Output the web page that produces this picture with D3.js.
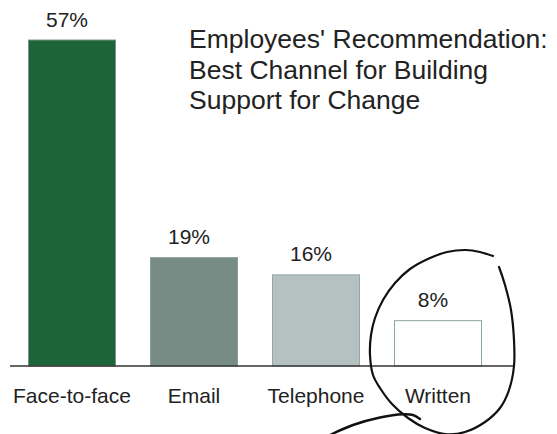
<!DOCTYPE html>
<html>
<head>
<meta charset="utf-8">
<script src="https://cdn.jsdelivr.net/npm/d3@7"></script>
<style>
  html, body { margin: 0; padding: 0; background: #fff; }
  svg { display: block; font-family: "Liberation Sans", Arial, Helvetica, sans-serif; }
</style>
</head>
<body>
<svg id="chart" width="557" height="434"></svg>
<script>
// Survey results: preferred channel for building support for change
const categories = ["Face-to-face", "Email", "Telephone", "Written"];
const values = [57, 19, 16, 8];
const valueLabels = ["57%", "19%", "16%", "8%"];
const barFills = ["#1b6538", "#778c84", "#b5c0c1", "#ffffff"];
const barStrokes = ["#7f958d", "#8a9d97", "#93a8a8", "#8aa5a5"];
const titleLines = ["Employees' Recommendation:", "Best Channel for Building", "Support for Change"];

const svg = d3.select("#chart");
const baseY = 366;

const x = d3.scaleBand()
  .domain(categories)
  .range([11, 499])
  .paddingInner(34 / 122)
  .paddingOuter(17 / 122);

const y = d3.scaleLinear()
  .domain([0, 57])
  .range([baseY, 39.5]);

const data = categories.map((c, i) => ({ c, v: values[i], label: valueLabels[i], fill: barFills[i], stroke: barStrokes[i] }));

// bars
svg.append("g").selectAll("rect")
  .data(data)
  .join("rect")
  .attr("x", d => x(d.c) + 0.5)
  .attr("y", d => y(d.v) + 0.5)
  .attr("width", x.bandwidth() - 1)
  .attr("height", d => baseY - y(d.v) - 0.5)
  .attr("fill", d => d.fill)
  .attr("stroke", d => d.stroke)
  .attr("stroke-width", 1);

// value labels
svg.append("g").selectAll("text")
  .data(data)
  .join("text")
  .attr("x", d => x(d.c) + x.bandwidth() / 2 - 5)
  .attr("y", d => y(d.v) - 13)
  .attr("text-anchor", "middle")
  .attr("font-size", 21)
  .attr("fill", "#222")
  .text(d => d.label);

// category axis: baseline and labels
svg.append("line")
  .attr("x1", 10).attr("x2", 513)
  .attr("y1", baseY).attr("y2", baseY)
  .attr("stroke", "#333")
  .attr("stroke-width", 1.6);

svg.append("g").selectAll("text")
  .data(categories)
  .join("text")
  .attr("x", c => x(c) + x.bandwidth() / 2)
  .attr("y", baseY + 36.5)
  .attr("text-anchor", "middle")
  .attr("font-size", 21)
  .attr("fill", "#222")
  .text(c => c);

// title
svg.append("g").selectAll("text")
  .data(titleLines)
  .join("text")
  .attr("x", 189)
  .attr("y", (d, i) => 47.7 + i * 30.8)
  .attr("font-size", 26.5)
  .attr("fill", "#222")
  .text(d => d);

// hand-drawn loop around the "Written" bar, offsets from its centre on the baseline
const cx = x("Written") + x.bandwidth() / 2;
const loopOffsets = [
  [55, -110], [42, -114], [28, -116], [9, -114], [-8, -108], [-28, -97], [-43, -83],
  [-55, -66], [-63, -48], [-67, -31], [-68, -11], [-65, 9], [-58, 22], [-46, 38],
  [-30, 52], [-13, 62], [7, 68], [27, 66], [47, 56], [62, 42], [71, 24], [76, 0],
  [76, -26], [73, -56], [67, -81], [61, -99]
];
const tailOffsets = [[-108, 69], [-85, 59], [-58, 51.5], [-35, 48.3], [-25, 49], [-18, 53]];

const pen = d3.line()
  .x(p => cx + p[0])
  .y(p => baseY + p[1])
  .curve(d3.curveCatmullRom.alpha(0.5));

svg.append("path")
  .attr("d", pen(loopOffsets))
  .attr("fill", "none")
  .attr("stroke", "#111")
  .attr("stroke-width", 2.2)
  .attr("stroke-linecap", "round");

svg.append("path")
  .attr("d", pen(tailOffsets))
  .attr("fill", "none")
  .attr("stroke", "#111")
  .attr("stroke-width", 2.4)
  .attr("stroke-linecap", "round");
</script>
</body>
</html>
